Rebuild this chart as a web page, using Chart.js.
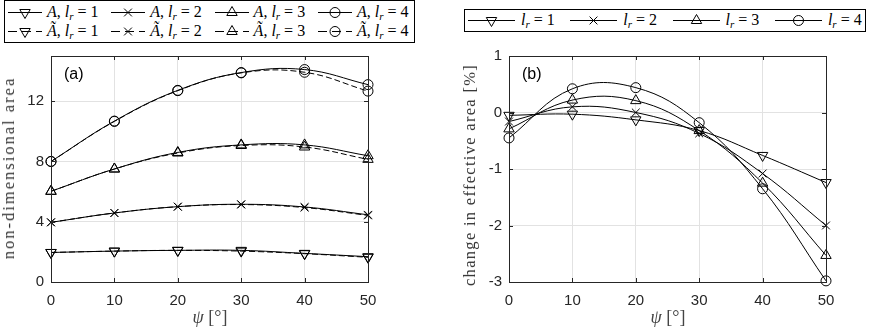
<!DOCTYPE html>
<html>
<head>
<meta charset="utf-8">
<script src="https://cdn.jsdelivr.net/npm/chart.js@4.4.0/dist/chart.umd.min.js"></script>
<style>
  html, body { margin: 0; padding: 0; background: #fff; }
  #wrap { position: relative; width: 870px; height: 332px; overflow: hidden; }
  #wrap canvas { position: absolute; top: 0; }
  #chartA { left: 0; }
  #chartB { left: 435px; }
  .legend { position: absolute; border: 1px solid #000; background: #fff; box-sizing: border-box; }
  .item { position: absolute; display: flex; align-items: center; height: 18px; }
  .item svg { display: block; }
  .math { font-family: "Liberation Serif", "Times New Roman", serif; font-size: 16px; color: #000; white-space: nowrap; margin-left: 5px; }
  .math sub { font-size: 11px; vertical-align: -3px; line-height: 0; }
  .ylab { position: absolute; font-family: "Liberation Serif", serif; font-size: 16.5px; letter-spacing: 2px;
          color: #333; white-space: nowrap; transform: translate(-50%, -50%) rotate(-90deg); }
  .xlab { position: absolute; font-family: "Liberation Serif", serif; font-size: 18px; color: #444;
          white-space: nowrap; transform: translate(-50%, -50%); }
  .tag { position: absolute; font-family: "Liberation Sans", Arial, sans-serif; font-size: 16px; color: #000;
         transform: translateY(-50%); }
</style>
</head>
<body>
<div id="wrap">
  <canvas id="chartA" width="435" height="332"></canvas>
  <canvas id="chartB" width="435" height="332"></canvas>

  <div class="legend" id="legendA" style="left:4px; top:0; width:411px; height:43px;"></div>
  <div class="legend" id="legendB" style="left:464px; top:9px; width:402px; height:23px;"></div>

  <div class="ylab" style="left:9px; top:168px;">non-dimensional area</div>
  <div class="ylab" style="left:470px; top:175px; letter-spacing:1.3px;">change in effective area [%]</div>
  <div class="xlab" style="left:210px; top:317px;"><i>ψ</i> [°]</div>
  <div class="xlab" style="left:668px; top:317px;"><i>ψ</i> [°]</div>
  <div class="tag" style="left:64px; top:74px;">(a)</div>
  <div class="tag" style="left:522px; top:74px;">(b)</div>
</div>

<script>
// ---------------------------
// data
// ---------------------------
const psi = [0, 10, 20, 30, 40, 50];
const xTicks = [0, 10, 20, 30, 40, 50];
const yTicksA = [0, 4, 8, 12];
const yTicksB = [-3, -2, -1, 0, 1];
const lrLabels = ['1', '2', '3', '4'];

// (a) non-dimensional area, A (solid) and A~ (dashed)
const areaLr1 = [1.96, 2.05, 2.10, 2.10, 1.90, 1.68];
const areaLr2 = [3.96, 4.58, 5.00, 5.16, 4.98, 4.46];
const areaLr3 = [6.02, 7.50, 8.60, 9.10, 9.10, 8.38];
const areaLr4 = [8.00, 10.68, 12.72, 13.90, 14.10, 13.10];

const areaTildeLr1 = [1.96, 2.05, 2.10, 2.05, 1.88, 1.64];
const areaTildeLr2 = [3.96, 4.58, 5.00, 5.14, 4.94, 4.42];
const areaTildeLr3 = [6.02, 7.50, 8.56, 9.06, 8.96, 8.14];
const areaTildeLr4 = [8.00, 10.66, 12.70, 13.88, 13.92, 12.67];

// (b) change in effective area [%]
const changeLr1 = [-0.05, -0.03, -0.13, -0.32, -0.76, -1.24];
const changeLr2 = [-0.16, 0.10, 0.00, -0.37, -1.08, -2.00];
const changeLr3 = [-0.29, 0.22, 0.21, -0.32, -1.25, -2.53];
const changeLr4 = [-0.45, 0.42, 0.44, -0.18, -1.35, -2.98];

// ---------------------------
// styles
// ---------------------------
const markers = [
  { style: 'triangle', rot: 180, r: 6 },   // l_r = 1
  { style: 'crossRot', rot: 0, r: 5.5 },   // l_r = 2
  { style: 'triangle', rot: 0, r: 6 },     // l_r = 3
  { style: 'circle', rot: 0, r: 5 }        // l_r = 4
];
const GRID = '#e2e2e2';
const AXIS = '#262626';

function series(values, mk, dashed) {
  return {
    data: values.map((v, i) => ({ x: psi[i], y: v })),
    borderColor: '#000',
    borderWidth: 1,
    borderDash: dashed ? [6, 3] : [],
    tension: 0.4,
    fill: false,
    clip: false,
    pointStyle: mk.style,
    rotation: mk.rot,
    pointRadius: mk.r,
    pointHoverRadius: mk.r,
    pointBorderColor: '#000',
    pointBackgroundColor: 'rgba(0,0,0,0)',
    pointBorderWidth: 1
  };
}

function tickList(values) {
  return (scale) => { scale.ticks = values.map(v => ({ value: v })); };
}

// box round the plot + inward ticks (MATLAB look)
const boxPlugin = {
  id: 'box',
  afterDatasetsDraw(chart) {
    const { ctx, chartArea: a, scales: { x, y } } = chart;
    ctx.save();
    ctx.strokeStyle = AXIS;
    ctx.lineWidth = 1;
    ctx.setLineDash([]);
    ctx.strokeRect(Math.round(a.left) + 0.5, Math.round(a.top) + 0.5,
                   Math.round(a.right - a.left), Math.round(a.bottom - a.top));
    ctx.beginPath();
    x.ticks.forEach(t => {
      const px = Math.round(x.getPixelForValue(t.value)) + 0.5;
      ctx.moveTo(px, a.bottom); ctx.lineTo(px, a.bottom - 4);
      ctx.moveTo(px, a.top); ctx.lineTo(px, a.top + 4);
    });
    y.ticks.forEach(t => {
      const py = Math.round(y.getPixelForValue(t.value)) + 0.5;
      ctx.moveTo(a.left, py); ctx.lineTo(a.left + 4, py);
      ctx.moveTo(a.right, py); ctx.lineTo(a.right - 4, py);
    });
    ctx.stroke();
    ctx.restore();
  }
};

function makeOptions(yMin, yMax, yTicks, yWidth, padRight) {
  const tickFont = { family: '"Liberation Sans", Arial, sans-serif', size: 15 };
  return {
    responsive: false,
    animation: false,
    events: [],
    layout: { padding: { left: 0, top: 56, right: padRight, bottom: 0 } },
    plugins: { legend: { display: false }, tooltip: { enabled: false } },
    scales: {
      x: {
        type: 'linear', min: 0, max: 50,
        afterBuildTicks: tickList(xTicks),
        afterFit: (s) => { s.height = 50; },
        grid: { color: GRID, drawTicks: false },
        border: { display: false },
        ticks: { color: AXIS, font: tickFont, padding: 10, maxRotation: 0 }
      },
      y: {
        type: 'linear', min: yMin, max: yMax,
        afterBuildTicks: tickList(yTicks),
        afterFit: (s) => { s.width = yWidth; },
        grid: { color: GRID, drawTicks: false },
        border: { display: false },
        ticks: { color: AXIS, font: tickFont, padding: 7 }
      }
    }
  };
}

// ---------------------------
// legends (html, math text)
// ---------------------------
function markerSvg(i, cx, cy) {
  if (i === 0) return `<polygon points="${cx},${cy + 6} ${cx - 5.2},${cy - 3} ${cx + 5.2},${cy - 3}" fill="none" stroke="#000"/>`;
  if (i === 1) return `<path d="M${cx - 3.9},${cy - 3.9}L${cx + 3.9},${cy + 3.9}M${cx - 3.9},${cy + 3.9}L${cx + 3.9},${cy - 3.9}" stroke="#000"/>`;
  if (i === 2) return `<polygon points="${cx},${cy - 6} ${cx - 5.2},${cy + 3} ${cx + 5.2},${cy + 3}" fill="none" stroke="#000"/>`;
  return `<circle cx="${cx}" cy="${cy}" r="5" fill="none" stroke="#000"/>`;
}

function legendIcon(i, w, dashed) {
  const c = w / 2;
  const dash = dashed ? ' stroke-dasharray="9 5"' : '';
  return `<svg width="${w}" height="18"><line x1="0" y1="9.5" x2="${w}" y2="9.5" stroke="#000"${dash}/>${markerSvg(i, c, 9.5)}</svg>`;
}

function buildLegendA() {
  const el = document.getElementById('legendA');
  let html = '';
  lrLabels.forEach((lr, i) => {
    const left = 3 + i * 103.3;
    html += `<div class="item" style="left:${left}px; top:2px;">${legendIcon(i, 34, false)}` +
            `<span class="math"><i>A</i>, <i>l</i><sub><i>r</i></sub> = ${lr}</span></div>`;
    html += `<div class="item" style="left:${left}px; top:21px;">${legendIcon(i, 34, true)}` +
            `<span class="math"><i>Ã</i>, <i>l</i><sub><i>r</i></sub> = ${lr}</span></div>`;
  });
  el.innerHTML = html;
}

function buildLegendB() {
  const el = document.getElementById('legendB');
  let html = '';
  lrLabels.forEach((lr, i) => {
    const left = 3 + i * 102.3;
    html += `<div class="item" style="left:${left}px; top:1px;">${legendIcon(i, 47, false)}` +
            `<span class="math" style="margin-left:6px"><i>l</i><sub><i>r</i></sub> = ${lr}</span></div>`;
  });
  el.innerHTML = html;
}

// ---------------------------
// charts
// ---------------------------
function initCharts() {
  const areas = [areaLr1, areaLr2, areaLr3, areaLr4];
  const areasTilde = [areaTildeLr1, areaTildeLr2, areaTildeLr3, areaTildeLr4];
  const changes = [changeLr1, changeLr2, changeLr3, changeLr4];

  const dsA = [];
  areas.forEach((v, i) => dsA.push(series(v, markers[i], false)));
  areasTilde.forEach((v, i) => dsA.push(series(v, markers[i], true)));

  new Chart(document.getElementById('chartA'), {
    type: 'line',
    data: { datasets: dsA },
    options: makeOptions(0, 15, yTicksA, 51, 67),
    plugins: [boxPlugin]
  });

  new Chart(document.getElementById('chartB'), {
    type: 'line',
    data: { datasets: changes.map((v, i) => series(v, markers[i], false)) },
    options: makeOptions(-3, 1, yTicksB, 74, 44),
    plugins: [boxPlugin]
  });

  buildLegendA();
  buildLegendB();
}

initCharts();
</script>
</body>
</html>
